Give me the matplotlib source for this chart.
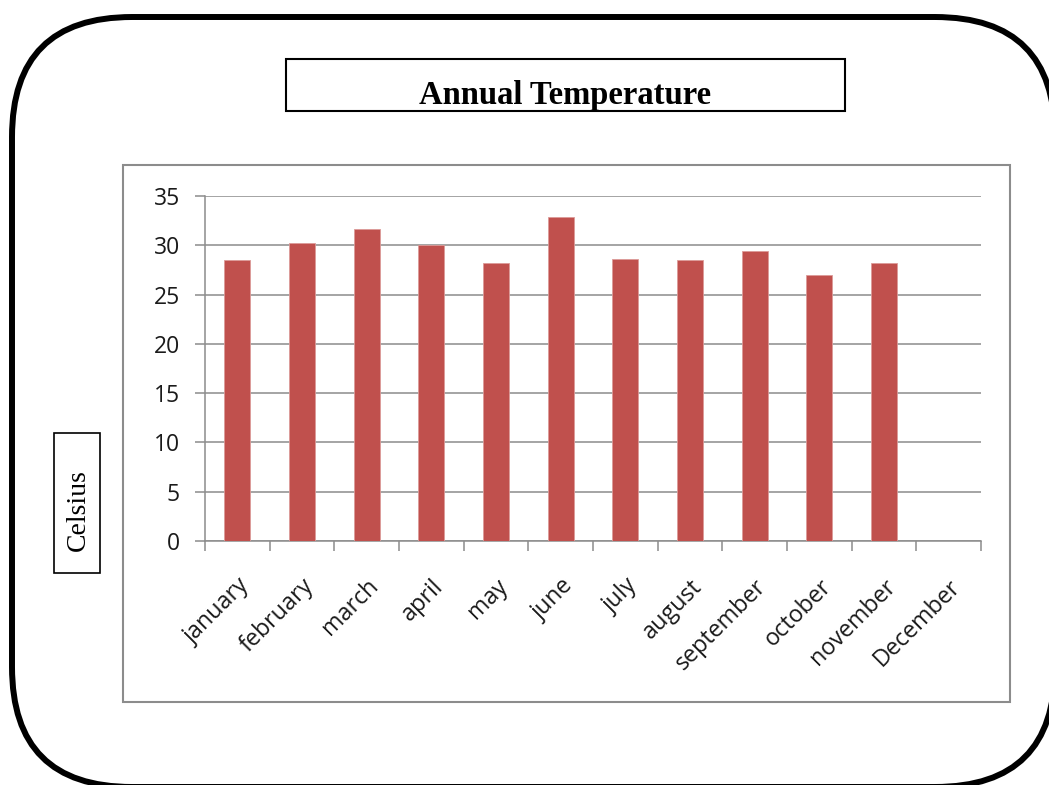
import numpy as np
import matplotlib.pyplot as plt
from matplotlib.patches import FancyBboxPatch, Rectangle

months = ['january', 'february', 'march', 'april', 'may', 'june', 'july',
          'august', 'september', 'october', 'november', 'December']
temps = [28.5, 30.2, 31.7, 30.0, 28.2, 32.9, 28.6, 28.5, 29.4, 27.0, 28.2, np.nan]
yticks = [0, 5, 10, 15, 20, 25, 30, 35]

W, H = 1049, 785
fig = plt.figure(figsize=(W / 100, H / 100), dpi=100)

# background layer in pixel coords (y down)
bg = fig.add_axes([0, 0, 1, 1])
bg.set_xlim(0, W)
bg.set_ylim(H, 0)
bg.axis('off')

outer = FancyBboxPatch((12, 17), 1043, 770, boxstyle='round,pad=0,rounding_size=120',
                       facecolor='white', edgecolor='black', linewidth=4.3)
bg.add_patch(outer)

# chart area frame
bg.add_patch(Rectangle((123, 165), 887, 537, facecolor='white', edgecolor='#8c8c8c', linewidth=1.5))

# title box (text is cut off by the box edge, like the original)
tbox = Rectangle((286, 59), 559, 52, facecolor='white', edgecolor='black', linewidth=1.5)
bg.add_patch(tbox)
t = bg.text(565, 104, 'Annual Temperature', ha='center', va='baseline',
            fontsize=23.5, fontweight='bold', family='Liberation Serif')
t.set_clip_path(tbox)

# axis title box
cbox = Rectangle((54, 433), 46, 140, facecolor='white', edgecolor='black', linewidth=1.2)
bg.add_patch(cbox)
bg.text(78, 510, 'Celsius', ha='center', va='center', rotation=90,
        fontsize=20, family='Liberation Serif')

# main plot
ax = fig.add_axes([205 / W, 1 - 541 / H, (981 - 205) / W, (541 - 196) / H])
ax.patch.set_alpha(0)
x = np.arange(len(months))
ax.bar(x, temps, width=0.4, color='#C0504D', edgecolor='#dc9a98', linewidth=0.6, zorder=3)

ax.set_xlim(-0.5, len(months) - 0.5)
ax.set_ylim(0, 35)
ax.set_yticks(yticks)
ax.grid(axis='y', color='#8c8c8c', linewidth=1.1, zorder=0)
ax.set_axisbelow(True)

for s in ['top', 'right']:
    ax.spines[s].set_visible(False)
for s in ['left', 'bottom']:
    ax.spines[s].set_color('#8c8c8c')
    ax.spines[s].set_linewidth(1.1)

ax.set_xticks(x)
ax.set_xticklabels(months, rotation=45, ha='right', va='top', rotation_mode='anchor',
                   fontsize=16.8, family='Open Sans', color='#1a1a1a')
ax.set_xticks(np.arange(-0.5, len(months)), minor=True)
ax.tick_params(axis='x', which='major', length=0, pad=24)
ax.tick_params(axis='x', which='minor', length=7, color='#8c8c8c', width=1.1)
ax.tick_params(axis='y', length=7, color='#8c8c8c', width=1.1, pad=11)
for lbl in ax.get_yticklabels():
    lbl.set_family('Open Sans')
    lbl.set_fontsize(16.5)
    lbl.set_color('#1a1a1a')

fig.savefig('out.png', dpi=100)
